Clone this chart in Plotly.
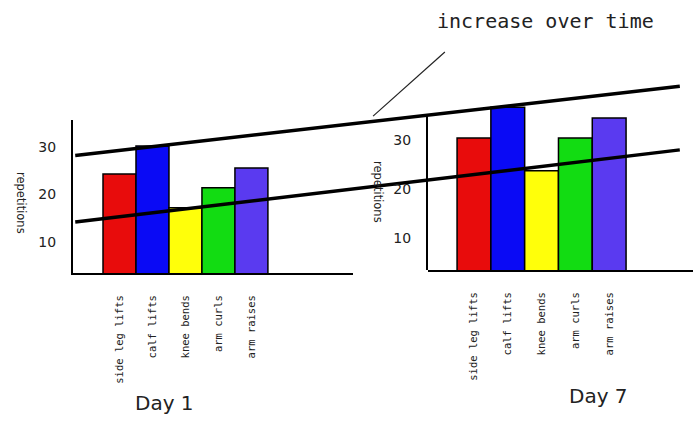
import plotly.graph_objects as go

W, H = 694, 440

# ---- data ----
exercises = ["side leg lifts", "calf lifts", "knee bends", "arm curls", "arm raises"]
day1_reps = [24.3, 30.2, 17.2, 21.4, 25.6]
day7_reps = [30.4, 36.7, 23.7, 30.4, 34.5]
bar_colors = ["#e80c0c", "#0a0af5", "#ffff0a", "#12dc12", "#5a3af0"]
y_ticks = [10, 20, 30]

# trend lines ("increase over time"), x in days, y in repetitions
trend_days = [-0.85, 9.34]
upper_trend = [28.2, 42.8]
lower_trend = [14.2, 29.4]
pointer_days = [4.17, 5.38]
pointer_reps = [36.5, 50.0]

def px(v):  # horizontal pixel -> paper
    return v / W

def py(v):  # vertical pixel -> paper
    return 1 - v / H

fig = go.Figure()

fig.add_trace(go.Bar(x=exercises, y=day1_reps, marker=dict(color=bar_colors, line=dict(color="black", width=1.5)),
                     xaxis="x", yaxis="y", showlegend=False, hoverinfo="skip"))
fig.add_trace(go.Bar(x=exercises, y=day7_reps, marker=dict(color=bar_colors, line=dict(color="black", width=1.5)),
                     xaxis="x2", yaxis="y2", showlegend=False, hoverinfo="skip"))
fig.add_trace(go.Scatter(x=[None], y=[None], xaxis="x4", yaxis="y4", showlegend=False, hoverinfo="skip"))
fig.add_trace(go.Scatter(x=trend_days, y=upper_trend, mode="lines", line=dict(color="black", width=3.5),
                         xaxis="x3", yaxis="y3", showlegend=False, hoverinfo="skip"))
fig.add_trace(go.Scatter(x=trend_days, y=lower_trend, mode="lines", line=dict(color="black", width=3.5),
                         xaxis="x3", yaxis="y3", showlegend=False, hoverinfo="skip"))
fig.add_trace(go.Scatter(x=pointer_days, y=pointer_reps, mode="lines", line=dict(color="#222", width=1.2),
                         xaxis="x3", yaxis="y3", showlegend=False, hoverinfo="skip"))

tickfont = dict(family="DejaVu Sans Mono", size=10.5, color="#222")
numfont = dict(family="DejaVu Sans", size=14, color="#222")

xcommon = dict(type="category", showline=True, linecolor="black", linewidth=2, showgrid=False,
               zeroline=False, tickangle=-90, tickfont=tickfont, ticks="", ticklabelstandoff=16)

fig.update_layout(
    width=W, height=H, margin=dict(l=0, r=0, t=0, b=0),
    paper_bgcolor="white", plot_bgcolor="rgba(0,0,0,0)",
    bargap=0, hovermode=False, dragmode=False,
    xaxis=dict(domain=[px(73), px(353)], anchor="y", range=[-1.41, 7.08], **xcommon),
    yaxis=dict(domain=[py(273), py(120)], anchor="x", range=[3.47, 35.68], tickvals=y_ticks,
               showline=True, linecolor="black", linewidth=2, showgrid=False, zeroline=False,
               tickfont=numfont, ticks="", ticklabelstandoff=12),
    xaxis2=dict(domain=[px(428), px(693)], anchor="y2", range=[-1.36, 6.48], **xcommon),
    yaxis2=dict(domain=[py(270), py(100)], anchor="x2", range=[3.47, 38.16],
                showline=False, showgrid=False, zeroline=False, showticklabels=False, ticks=""),
    xaxis4=dict(domain=[px(428), px(693)], anchor="y4", range=[0, 1], visible=False),
    yaxis4=dict(domain=[py(270), py(115)], anchor="x4", range=[3.47, 35.10], tickvals=y_ticks,
                showline=True, linecolor="black", linewidth=2, showgrid=False, zeroline=False,
                tickfont=numfont, ticks="", ticklabelstandoff=12),
    xaxis3=dict(domain=[0, 1], anchor="y3", range=[-2.118, 9.579], visible=False),
    yaxis3=dict(domain=[0, 1], anchor="x3", range=[-31.68, 60.95], visible=False),
)

def note(text, x, y, size, family="DejaVu Sans", angle=0):
    return dict(text=text, x=px(x), y=py(y), xref="paper", yref="paper", showarrow=False,
                xanchor="center", yanchor="middle", textangle=angle,
                font=dict(family=family, size=size, color="#222"))

fig.update_layout(annotations=[
    note("repetitions", 21, 203, 11.5, angle=90),
    note("repetitions", 378, 192, 11.5, angle=90),
    note("Day 1", 164, 403, 20),
    note("Day 7", 598, 396, 20),
    note("increase over time", 545, 21, 20, family="DejaVu Sans Mono"),
])

fig.write_html("out.html", config={"displayModeBar": False, "staticPlot": True})

# remove the browser's default page margin so the figure starts at (0, 0)
with open("out.html", "r", encoding="utf-8") as f:
    html = f.read()
html = html.replace("<head>", "<head><style>html,body{margin:0;padding:0;overflow:hidden;}</style>", 1)
with open("out.html", "w", encoding="utf-8") as f:
    f.write(html)
